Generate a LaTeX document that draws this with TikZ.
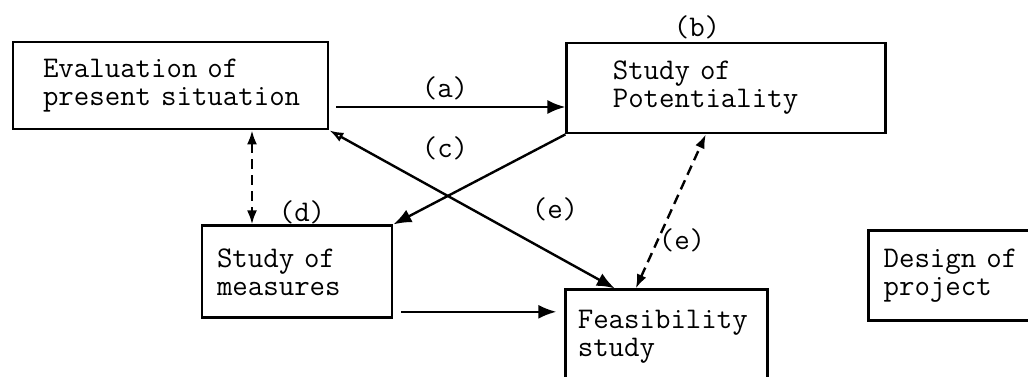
\documentclass[tikz,border=0pt]{standalone}
\usepackage{tikz}
\usetikzlibrary{positioning,arrows.meta}

\begin{document}
\begin{tikzpicture}[
    x=0.5pt, y=-0.5pt,
    every node/.style={font=\ttfamily\fontsize{15pt}{14pt}\selectfont},
    box/.style={draw, rectangle, line width=1.4pt, align=left, inner ysep=0pt},
    arr/.style={line width=1.2pt, -{Latex[length=9pt,width=7pt]}},
    dasharr/.style={line width=1.2pt, dash pattern=on 5pt off 3pt, {Latex[length=7pt,width=5pt]}-{Latex[length=7pt,width=5pt]}}
  ]
    \useasboundingbox (0,0) rectangle (1028,376);
    \clip (0,0) rectangle (1028,376);

    % top row
    \node[box, inner xsep=15pt, text width=127.5pt, minimum height=43.5pt] (eval) at (170.5,85.5) {Evaluation of\\present~situation};
    \node[box, inner xsep=23pt, text width=113.5pt, minimum height=45pt, right=118pt of eval, yshift=-1.25pt] (pot) {Study of\\Potentiality};

    % lower row
    \node[box, inner xsep=7.5pt, text width=80pt, minimum height=46pt, below=47pt of eval, xshift=63.25pt] (meas) {Study of\\measures};
    \node[box, inner xsep=6pt, text width=89pt, minimum height=46.5pt, below=77pt of pot, xshift=-29.75pt] (feas) {Feasibility\\study};
    \node[box, inner xsep=7.5pt, text width=80pt, minimum height=45pt, right=49pt of feas, yshift=30.25pt] (design) {Design of\\project};

    % labels
    \node (la) at (445,88) {(a)};
    \node (lb) at (697,27) {(b)};
    \node (lc) at (445,148) {(c)};
    \node (ld) at (302,212) {(d)};
    \node (le) at (555,209) {(e)};
    \node (lf) at (682,240) {(e)};

    % arrows
    \draw[arr] ([shift={(3.5pt,-10.75pt)}]eval.east) -- ([yshift=-9.5pt]pot.west);
    \draw[arr] (pot.south west) -- (meas.north east);
    \draw[line width=1.2pt, {Latex[open,length=7pt,width=5pt]}-{Latex[length=9pt,width=7pt]}] (eval.south east) -- ([xshift=-26pt]feas.north);
    \draw[dasharr] ([xshift=40.75pt]eval.south) -- ([xshift=-22.5pt]meas.north);
    \draw[dasharr] ([xshift=-15.5pt]feas.north) -- ([xshift=-10.25pt]pot.south);
    \draw[arr] ([shift={(4pt,-20pt)}]meas.east) -- ([shift={(-4pt,12.25pt)}]feas.west);

  \end{tikzpicture}
\end{document}
